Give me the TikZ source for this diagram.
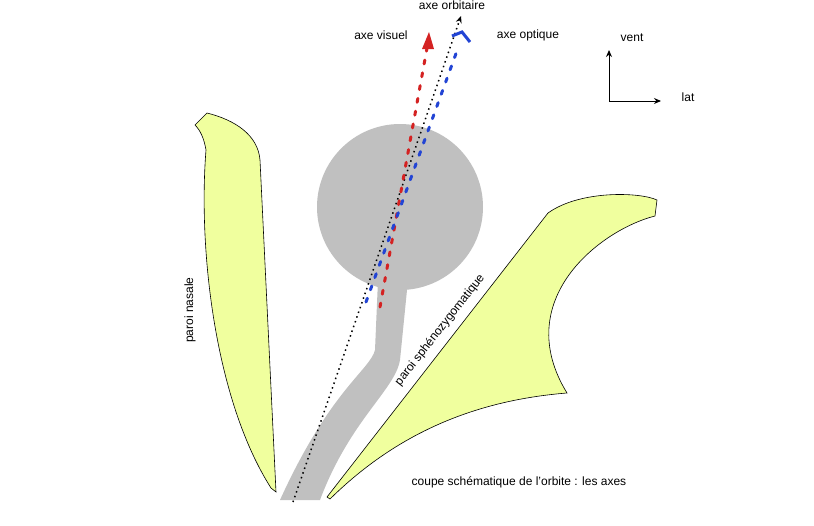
\documentclass[tikz,border=0pt]{standalone}
\usepackage{fontspec}
\setmainfont{Liberation Sans}
\usetikzlibrary{arrows.meta,calc}
\definecolor{wallfill}{HTML}{F0FF9E}
\definecolor{nervegray}{HTML}{C0C0C0}
\definecolor{visred}{HTML}{D42222}
\definecolor{optblue}{HTML}{2244D4}
\begin{document}
\begin{tikzpicture}[x=1pt,y=-1pt,
  wall/.style={draw, fill=wallfill, line width=0.6pt},
  lbl/.style={font=\fontsize{12}{14}\selectfont, inner sep=1pt},
  axdash/.style={line width=3pt, dash pattern=on 4pt off 9pt, line cap=round},
]
  \useasboundingbox (0,0) rectangle (814,525);

  % Walls
  \path[wall] (207,113) .. controls (235,120) and (258,135) .. (260,160)
    -- (276,492) -- (271,488)
    .. controls (215,400) and (198,250) .. (206,150)
    .. controls (204,138) and (200,130) .. (195,125) -- cycle;
  \path[wall] (327,497) -- (548,213)
    .. controls (580,190) and (640,192) .. (657,200) -- (655,216)
    .. controls (600,230) and (510,300) .. (567,393)
    .. controls (480,400) and (400,430) .. (330,499) -- cycle;

  % Nerve and globe
  \fill[nervegray] (400,207) circle (83);
  \fill[nervegray] (378,280) -- (375,350) .. controls (370,370) and (330,390) .. (280,500)
    -- (320,500) .. controls (350,420) and (395,390) .. (400,360) -- (408,280) -- cycle;

  % Axes
  \coordinate (orbA) at (293,502);
  \coordinate (orbB) at (461,16);
  \coordinate (visA) at (380,307);
  \coordinate (visB) at (427,48);
  \coordinate (optA) at (366,302);
  \coordinate (optB) at (458,48);
  \draw[line width=1.5pt, dash pattern=on 1.5pt off 3.5pt, -{Stealth[length=7pt,width=6pt]}] (orbA) -- (orbB);
  \draw[visred, axdash] (visA) -- (visB);
  \fill[visred] (429,32) -- (422,49) -- (434,49) -- cycle;
  \draw[optblue, axdash] (optA) -- (optB);
  \draw[optblue, line width=3pt] (452,36) -- (462,32) -- (470,42);

  % Direction marks
  \coordinate (orig) at (609,101);
  \draw[line width=1pt, -{Stealth[length=7pt,width=6pt]}] (orig) -- (609,50);
  \draw[line width=1pt, -{Stealth[length=7pt,width=6pt]}] (orig) -- (661,101);

  % Labels
  \node[lbl] (tOrb) at (452,5) {axe orbitaire};
  \node[lbl] (tVis) at (381,35) {axe visuel};
  \node[lbl] (tOpt) at (528,35) {axe optique};
  \node[lbl] (tVent) at (632,38) {vent};
  \node[lbl] (tLat) at (688,97) {lat};
  \node[lbl, rotate=90] (tNas) at (190,310) {paroi nasale};
  \node[lbl, rotate=52] (tSph) at (440,330) {paroi sphénozygomatique};
  \node[lbl] (tCap) at (519,482) {coupe schématique de l'orbite : les axes};
\end{tikzpicture}
\end{document}
